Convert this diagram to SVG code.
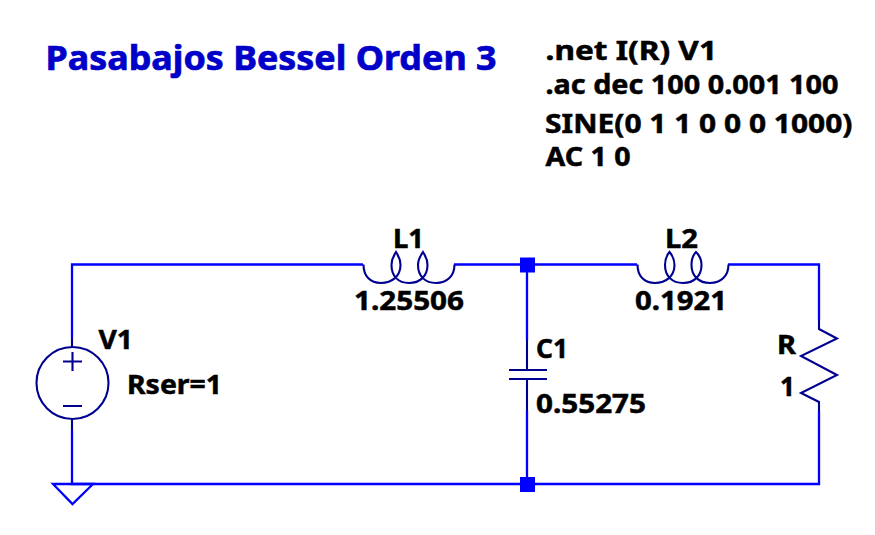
<svg xmlns="http://www.w3.org/2000/svg" width="875" height="535" viewBox="0 0 875 535">
<style>
.w{fill:none;stroke:#0000ff;stroke-width:2.300}
.c{fill:none;stroke:#000090;stroke-width:2.100}
.j{fill:#0000ff}
text{font-family:"Noto Sans","Liberation Sans",sans-serif;font-weight:bold;font-size:26.500px;fill:#000000;stroke:#000000;stroke-width:0.500}
.t{font-size:34px;fill:#0000c8;stroke:#0000c8;stroke-width:0.700}
</style>
<rect width="875" height="535" fill="#ffffff"/>
<g id="wires">
<path class="w" d="M72 338V264.500H363M454 264.500H637M728 264.500H819V320M819 411V484H72V430M527 264.500V340M527 411V484"/>
<path class="w" d="M53 484H93L72.500 504Z"/>
<rect class="j" x="520" y="257.500" width="15" height="15"/>
<rect class="j" x="520" y="477" width="15" height="15"/>
</g>
<g id="V1">
<path class="c" d="M72 338V347M72 419V430M63 361.500H82M72.500 352V371M63 406H82"/>
<circle class="c" cx="72.500" cy="383" r="36"/>
<text x="98.500" y="349" textLength="34.500" lengthAdjust="spacingAndGlyphs">V1</text>
<text x="127" y="394" textLength="95" lengthAdjust="spacingAndGlyphs">Rser=1</text>
</g>
<g id="L1">
<path class="c" d="M363.500 264.500C363.500 276 370 283 381 283C392 283 400.500 276 400.500 265C400.500 259 398 255 396 252C394 255 391.500 259 391.500 265C391.500 276 398 283 409 283C420 283 427.500 276 427.500 265C427.500 259 425 255 423 252C421 255 418 259 418 265C418 276 425 283 436 283C447 283 454.500 276 454.500 264.500"/>
<text x="393" y="248" textLength="31" lengthAdjust="spacingAndGlyphs">L1</text>
<text x="354" y="309.500" textLength="110" lengthAdjust="spacingAndGlyphs">1.25506</text>
</g>
<g id="L2">
<path class="c" d="M637.500 264.500C637.500 276 644 283 655 283C666 283 674.500 276 674.500 265C674.500 259 672 255 669.500 252C667 255 665 259 665 265C665 276 672 283 683 283C694 283 701.500 276 701.500 265C701.500 259 699 255 696 252C693 255 691.500 259 691.500 265C691.500 276 699 283 710 283C721 283 728.500 276 728.500 264.500"/>
<text x="665" y="248" textLength="33" lengthAdjust="spacingAndGlyphs">L2</text>
<text x="635" y="309.500" textLength="92" lengthAdjust="spacingAndGlyphs">0.1921</text>
</g>
<g id="C1">
<path class="c" d="M527 340V370M527 379V411M509 370H547M509 379H547"/>
<text x="536" y="358" textLength="32" lengthAdjust="spacingAndGlyphs">C1</text>
<text x="536" y="413" textLength="110" lengthAdjust="spacingAndGlyphs">0.55275</text>
</g>
<g id="R">
<path class="c" d="M819 320V329L837 338.500L801 356L837 375L801 393L819 402V411"/>
<text x="777" y="354" textLength="19" lengthAdjust="spacingAndGlyphs">R</text>
<text x="780" y="395.500" textLength="15" lengthAdjust="spacingAndGlyphs">1</text>
</g>
<g id="labels">
<text class="t" x="45.500" y="69.500" textLength="451" lengthAdjust="spacingAndGlyphs">Pasabajos Bessel Orden 3</text>
<text x="545.500" y="60" textLength="171.500" lengthAdjust="spacingAndGlyphs">.net I(R) V1</text>
<text x="545.500" y="94" textLength="293" lengthAdjust="spacingAndGlyphs">.ac dec 100 0.001 100</text>
<text x="545" y="133" textLength="307.500" lengthAdjust="spacingAndGlyphs">SINE(0 1 1 0 0 0 1000)</text>
<text x="545.500" y="165.500" textLength="85" lengthAdjust="spacingAndGlyphs">AC 1 0</text>
</g>
</svg>
